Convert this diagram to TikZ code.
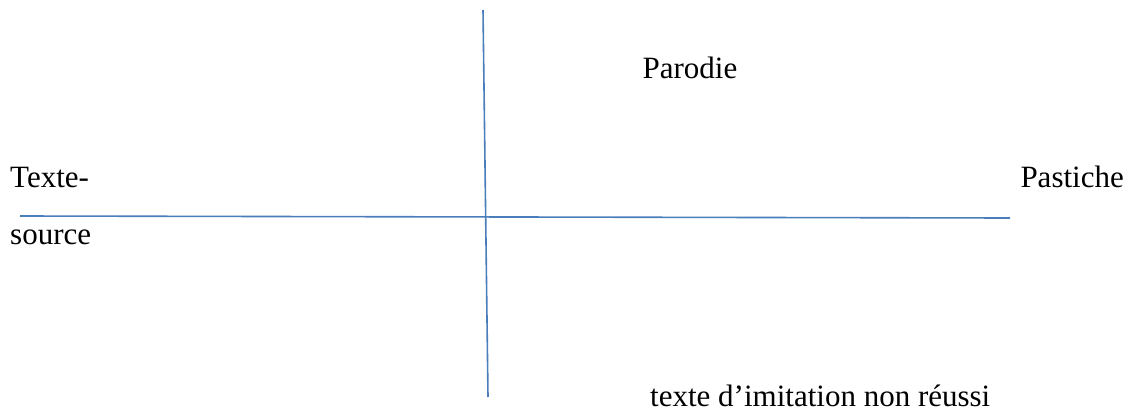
\documentclass[tikz,border=0pt]{standalone}
\usepackage{fontspec}
\setmainfont{Liberation Serif}
\definecolor{axis}{HTML}{4A7EBB}
\tikzset{
  axisline/.style={draw=axis, line width=1.6pt},
  lbl/.style={inner sep=0pt, font=\fontsize{31}{36}\selectfont}
}
\begin{document}
\begin{tikzpicture}[x=1pt,y=-1pt]
\useasboundingbox (0,0) rectangle (1134,412);
\coordinate (vtop) at (483,10);
\coordinate (vbot) at (488,397);
\coordinate (hleft) at (20,216);
\coordinate (hright) at (1010,218);
\draw[axisline] (vtop) -- (vbot);
\draw[axisline] (hleft) -- (hright);
\node[lbl, anchor=base] (parodie) at (690,78) {Parodie};
\node[lbl, anchor=base west] (texte) at (10,187) {Texte-};
\node[lbl, anchor=base west] (source) at (10,244) {source};
\node[lbl, anchor=base east] (pastiche) at (1124,187) {Pastiche};
\node[lbl, anchor=base west] (imit) at (650,406) {texte d’imitation non réussi};
\end{tikzpicture}
\end{document}
